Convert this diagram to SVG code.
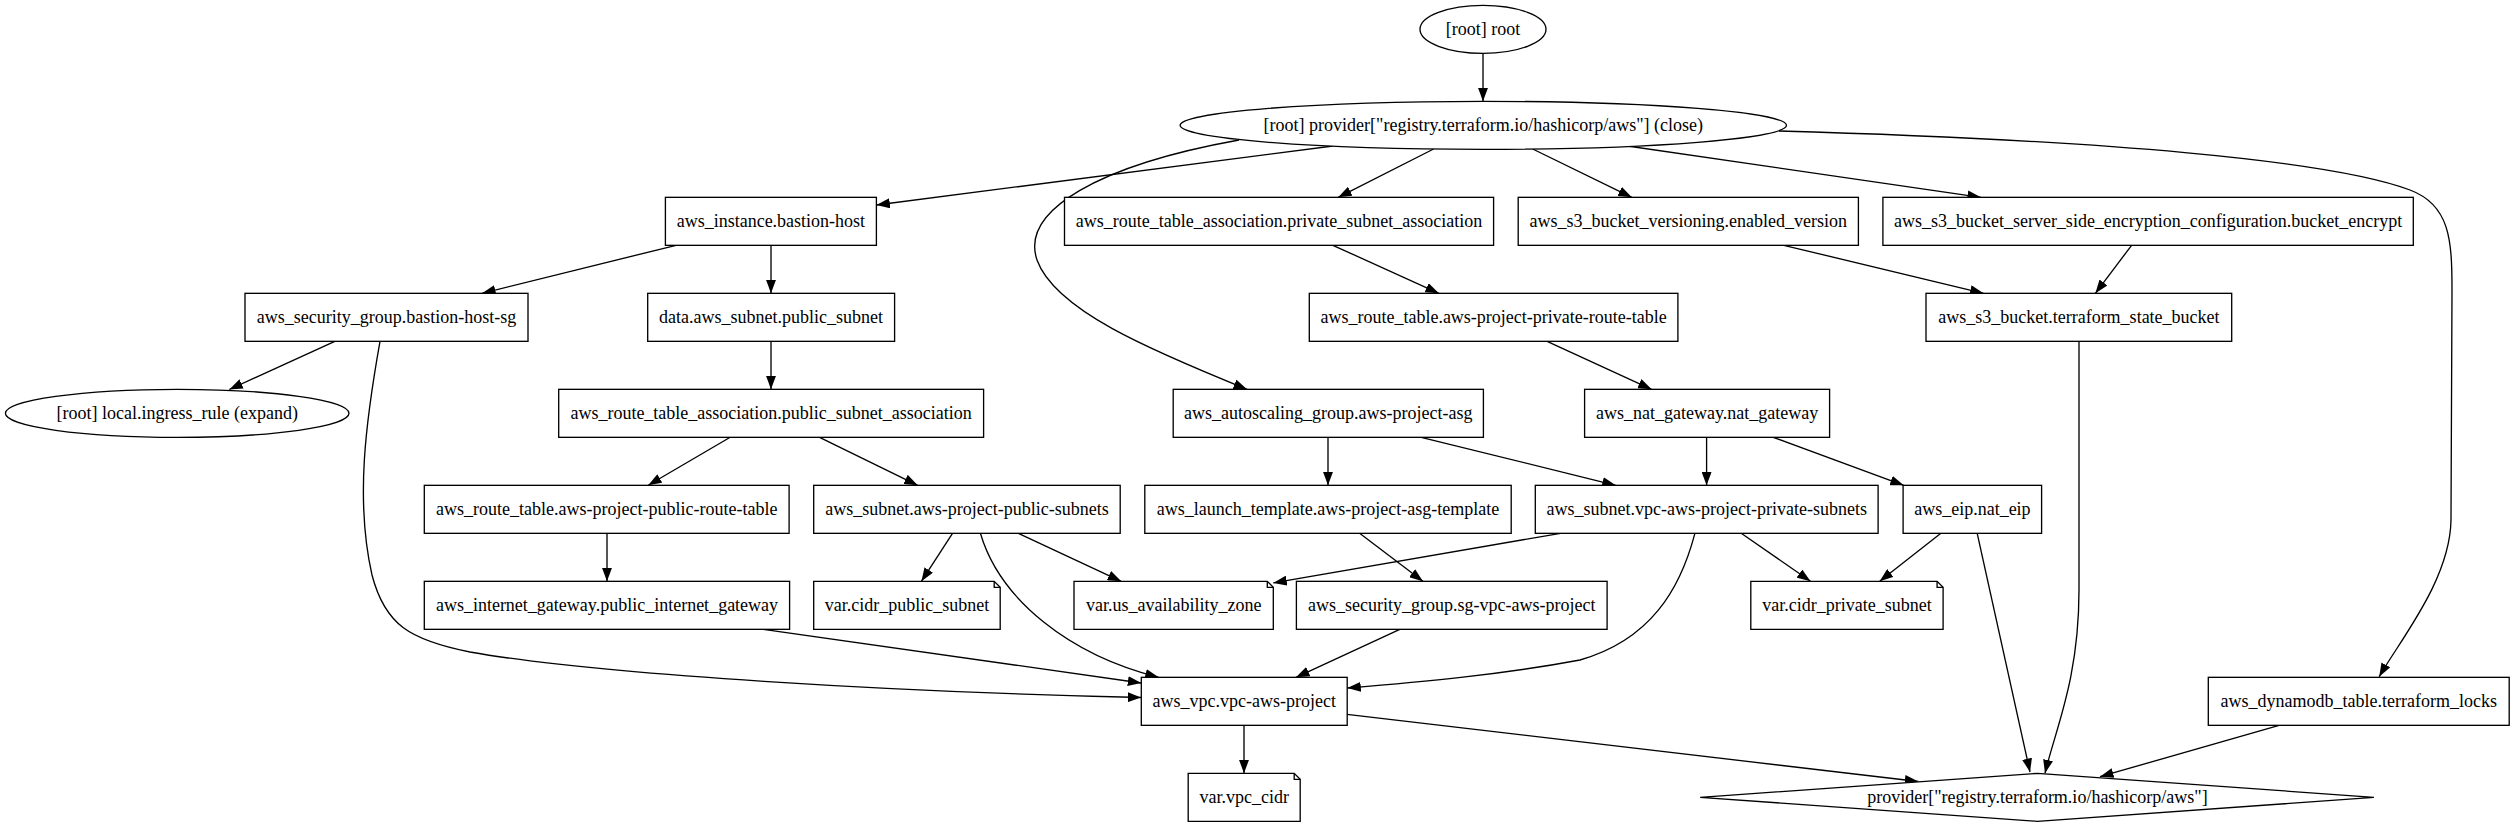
<svg xmlns="http://www.w3.org/2000/svg" width="2515" height="827" viewBox="0 0 2515 827">
<style>
.node rect, .node ellipse, .node polygon { fill: #ffffff; stroke: #000000; stroke-width: 1.33; }
.node polyline { fill: none; stroke: #000000; stroke-width: 1.33; }
.node text { font-family: "Liberation Serif", "Times New Roman", serif; font-size: 18px; text-anchor: middle; fill: #000000; }
.edges path { fill: none; stroke: #000000; stroke-width: 1.33; marker-end: url(#arrow); }
</style>
<defs>
<marker id="arrow" viewBox="0 0 13.5 10" refX="13.5" refY="5" markerWidth="13.5" markerHeight="10" markerUnits="userSpaceOnUse" orient="auto">
<path d="M0,0 L13.5,5 L0,10 Z" fill="#000000"/>
</marker>
</defs>
<rect x="0" y="0" width="2515" height="827" fill="#ffffff"/>

<g id="edges" class="edges">
<path d="M1483,53.3 L1483,101.3"/>
<path d="M1333,146 L876.4,205"/>
<path d="M1433.6,149 L1338.2,197.3"/>
<path d="M1532.7,149 L1631.8,197.3"/>
<path d="M1627.5,146 L1980.9,197.3"/>
<path d="M1239,140 C1100,165 1020,210 1037,260 C1055,310 1150,350 1247,389.3"/>
<path d="M1779,131 C2100,140 2330,160 2410,190 C2450,205 2452,240 2452,290 L2451,520 C2450,580 2400,640 2379.2,676.7"/>
<path d="M676,245.3 L482.1,293.3"/>
<path d="M771,245.3 L771,293.3"/>
<path d="M334.8,341.3 L229.3,389.5"/>
<path d="M380,341.3 C366,420 355,500 372,575 C385,625 410,640 470,652 C600,675 900,692 1141.3,697.5"/>
<path d="M771,341.3 L771,389.3"/>
<path d="M730.2,437.3 L648.2,485.3"/>
<path d="M819.6,437.3 L917.7,485.3"/>
<path d="M1332.9,245.3 L1438.9,293.3"/>
<path d="M1783.8,245.3 L1983.5,293.3"/>
<path d="M2131.6,245.3 L2095.4,293.3"/>
<path d="M1547.1,341.3 L1651.6,389.3"/>
<path d="M2079,341.3 L2079,590 C2079,680 2055,730 2045,773.3"/>
<path d="M1328,437.3 L1328,485.3"/>
<path d="M1421.2,437.3 L1615.7,485.3"/>
<path d="M1706.6,437.3 L1706.6,485.3"/>
<path d="M1773.2,437.3 L1903.7,485.3"/>
<path d="M607,533.3 L607,581.3"/>
<path d="M952.5,533.3 L921.4,581.3"/>
<path d="M1018.4,533.3 L1121.2,581.3"/>
<path d="M980.4,533.3 C1000,600 1070,655 1158.7,677.3"/>
<path d="M1359.6,533.3 L1422.9,581.3"/>
<path d="M1560.5,533.3 L1273.3,582.9"/>
<path d="M1694.9,533.3 C1680,590 1650,640 1580,660 C1500,675 1420,682 1347.3,688"/>
<path d="M1741.2,533.3 L1810.5,581.3"/>
<path d="M1940.9,533.3 L1879.7,581.3"/>
<path d="M1977.2,533.3 L2030,772"/>
<path d="M1399.8,629.3 L1296,677.3"/>
<path d="M763.4,629.3 L1141.3,683"/>
<path d="M1244,725.3 L1244,773.3"/>
<path d="M1347,714.3 L1918.3,781.5"/>
<path d="M2279.1,725.3 L2100,776.7"/>
</g>

<g id="n_root" class="node"><ellipse cx="1483" cy="29.33" rx="63" ry="24"/><text x="1483" y="35.3">[root] root</text></g>
<g id="n_provider_close" class="node"><ellipse cx="1483.3" cy="125.33" rx="303.2" ry="24"/><text x="1483.3" y="131.3">[root] provider["registry.terraform.io/hashicorp/aws"] (close)</text></g>

<g id="n_instance_bastion" class="node"><rect x="665.4" y="197.33" width="211" height="48"/><text x="770.9" y="227.3">aws_instance.bastion-host</text></g>
<g id="n_rta_private" class="node"><rect x="1064.5" y="197.33" width="429.1" height="48"/><text x="1279" y="227.3">aws_route_table_association.private_subnet_association</text></g>
<g id="n_s3_versioning" class="node"><rect x="1518.2" y="197.33" width="340.2" height="48"/><text x="1688.3" y="227.3">aws_s3_bucket_versioning.enabled_version</text></g>
<g id="n_s3_encrypt" class="node"><rect x="1882.9" y="197.33" width="530.4" height="48"/><text x="2148.1" y="227.3">aws_s3_bucket_server_side_encryption_configuration.bucket_encrypt</text></g>

<g id="n_sg_bastion" class="node"><rect x="245" y="293.33" width="283" height="48"/><text x="386.5" y="323.3">aws_security_group.bastion-host-sg</text></g>
<g id="n_data_public_subnet" class="node"><rect x="647.7" y="293.33" width="246.9" height="48"/><text x="771.1" y="323.3">data.aws_subnet.public_subnet</text></g>
<g id="n_rt_private" class="node"><rect x="1309.3" y="293.33" width="368.6" height="48"/><text x="1493.6" y="323.3">aws_route_table.aws-project-private-route-table</text></g>
<g id="n_s3_bucket" class="node"><rect x="1926" y="293.33" width="305.7" height="48"/><text x="2078.9" y="323.3">aws_s3_bucket.terraform_state_bucket</text></g>

<g id="n_ingress_rule" class="node"><ellipse cx="177.2" cy="413.33" rx="171.8" ry="24"/><text x="177.2" y="419.3">[root] local.ingress_rule (expand)</text></g>
<g id="n_rta_public" class="node"><rect x="558.7" y="389.33" width="424.9" height="48"/><text x="771.1" y="419.3">aws_route_table_association.public_subnet_association</text></g>
<g id="n_asg" class="node"><rect x="1173.2" y="389.33" width="310.2" height="48"/><text x="1328.3" y="419.3">aws_autoscaling_group.aws-project-asg</text></g>
<g id="n_nat_gateway" class="node"><rect x="1584.6" y="389.33" width="245" height="48"/><text x="1707.1" y="419.3">aws_nat_gateway.nat_gateway</text></g>

<g id="n_rt_public" class="node"><rect x="424.3" y="485.33" width="364.8" height="48"/><text x="606.7" y="515.3">aws_route_table.aws-project-public-route-table</text></g>
<g id="n_public_subnets" class="node"><rect x="813.7" y="485.33" width="306.5" height="48"/><text x="967" y="515.3">aws_subnet.aws-project-public-subnets</text></g>
<g id="n_launch_template" class="node"><rect x="1144.8" y="485.33" width="366.4" height="48"/><text x="1328" y="515.3">aws_launch_template.aws-project-asg-template</text></g>
<g id="n_private_subnets" class="node"><rect x="1535.3" y="485.33" width="342.8" height="48"/><text x="1706.7" y="515.3">aws_subnet.vpc-aws-project-private-subnets</text></g>
<g id="n_eip" class="node"><rect x="1903.1" y="485.33" width="138.5" height="48"/><text x="1972.4" y="515.3">aws_eip.nat_eip</text></g>

<g id="n_igw" class="node"><rect x="424.3" y="581.33" width="365.3" height="48"/><text x="607" y="611.3">aws_internet_gateway.public_internet_gateway</text></g>
<g id="n_var_cidr_public" class="node"><polygon points="813.7,581.33 994.2,581.33 1000.2,587.33 1000.2,629.33 813.7,629.33"/><polyline points="994.2,581.33 994.2,587.33 1000.2,587.33"/><text x="907" y="611.3">var.cidr_public_subnet</text></g>
<g id="n_var_az" class="node"><polygon points="1074,581.33 1267.3,581.33 1273.3,587.33 1273.3,629.33 1074,629.33"/><polyline points="1267.3,581.33 1267.3,587.33 1273.3,587.33"/><text x="1173.7" y="611.3">var.us_availability_zone</text></g>
<g id="n_sg_vpc" class="node"><rect x="1296.4" y="581.33" width="310.7" height="48"/><text x="1451.8" y="611.3">aws_security_group.sg-vpc-aws-project</text></g>
<g id="n_var_cidr_private" class="node"><polygon points="1750.8,581.33 1937.1,581.33 1943.1,587.33 1943.1,629.33 1750.8,629.33"/><polyline points="1937.1,581.33 1937.1,587.33 1943.1,587.33"/><text x="1847" y="611.3">var.cidr_private_subnet</text></g>

<g id="n_vpc" class="node"><rect x="1141.3" y="677.33" width="205.9" height="48"/><text x="1244.2" y="707.3">aws_vpc.vpc-aws-project</text></g>
<g id="n_dynamodb" class="node"><rect x="2208.3" y="677.33" width="300.9" height="48"/><text x="2358.7" y="707.3">aws_dynamodb_table.terraform_locks</text></g>

<g id="n_var_vpc_cidr" class="node"><polygon points="1188.2,773.33 1294.2,773.33 1300.2,779.33 1300.2,821.33 1188.2,821.33"/><polyline points="1294.2,773.33 1294.2,779.33 1300.2,779.33"/><text x="1244.2" y="803.3">var.vpc_cidr</text></g>
<g id="n_provider" class="node"><polygon points="2037.5,773.33 2373.9,797.33 2037.5,821.33 1700.2,797.33"/><text x="2037.5" y="803.3">provider["registry.terraform.io/hashicorp/aws"]</text></g>
</svg>
